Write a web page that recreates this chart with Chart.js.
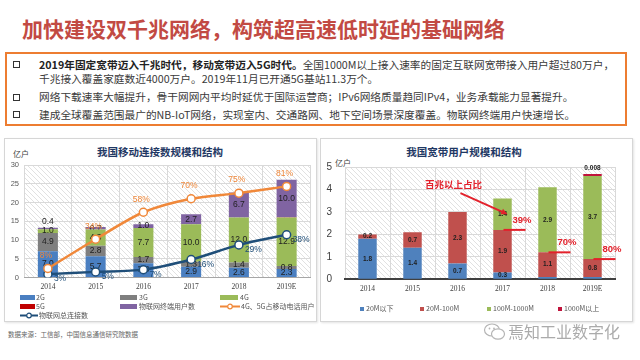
<!DOCTYPE html>
<html>
<head>
<meta charset="utf-8">
<script src="https://cdn.jsdelivr.net/npm/chart.js@4.4.1/dist/chart.umd.min.js"></script>
<style>
body{margin:0;width:640px;height:360px;background:#fff;position:relative;overflow:hidden;font-family:"Noto Sans CJK SC",sans-serif;}
.a{position:absolute;white-space:nowrap;}
#title{left:22px;top:13px;font-size:21px;line-height:30px;font-weight:bold;color:#c24a43;}
#box{left:5px;top:52px;width:618px;height:70px;border:2px solid #ed7d31;}
.ln{left:39px;font-size:10.7px;line-height:14px;color:#3a3a3a;}
.sq{left:13px;width:5px;height:5px;border:1.3px solid #333;}
.panel{top:138px;height:182px;border:1px solid #d6d6d6;box-shadow:1px 1px 2px #e4e4e4;}
.ptitle{font-size:10.5px;font-weight:bold;color:#1f3864;text-align:center;line-height:14px;}
.unit{font-size:8px;color:#404040;}
.lg{font-size:7px;color:#555;line-height:9px;}
.sw{position:absolute;height:5px;}
</style>
</head>
<body>
<div id="title" class="a">加快建设双千兆网络，构筑超高速低时延的基础网络</div>
<div id="box" class="a"></div>
<div class="a sq" style="top:61px"></div>
<div class="a ln" style="top:58px"><b style="color:#222">2019年固定宽带迈入千兆时代，移动宽带迈入5G时代。</b>全国1000M以上接入速率的固定互联网宽带接入用户超过80万户，</div>
<div class="a ln" style="top:72px">千兆接入覆盖家庭数近4000万户。2019年11月已开通5G基站11.3万个。</div>
<div class="a sq" style="top:94px"></div>
<div class="a ln" style="top:90px">网络下载速率大幅提升，骨干网网内平均时延优于国际运营商；IPv6网络质量趋同IPv4，业务承载能力显著提升。</div>
<div class="a sq" style="top:111px"></div>
<div class="a ln" style="top:108px">建成全球覆盖范围最广的NB-IoT网络，实现室内、交通路网、地下空间场景深度覆盖。物联网终端用户快速增长。</div>

<div class="a panel" style="left:4px;width:311px"></div>
<div class="a panel" style="left:320px;width:311px"></div>

<div class="a ptitle" style="left:60px;width:200px;top:145px">我国移动连接数规模和结构</div>
<div class="a ptitle" style="left:364px;width:200px;top:145px">我国宽带用户规模和结构</div>
<div class="a unit" style="left:13px;top:148px">亿户</div>
<div class="a unit" style="left:335px;top:157px">亿户</div>

<canvas id="c1" class="a" width="311" height="156" style="left:5px;top:138px"></canvas>
<canvas id="c2" class="a" width="311" height="162" style="left:321px;top:138px"></canvas>

<!-- left legend -->
<div class="a lg" style="left:20px;top:293px"><span class="sw" style="left:0;top:2px;width:15px;background:#4a7fc1"></span><span style="margin-left:16px">2G</span></div>
<div class="a lg" style="left:120px;top:293px"><span class="sw" style="left:0;top:2px;width:17px;background:#7f7f7f"></span><span style="margin-left:19px">3G</span></div>
<div class="a lg" style="left:220px;top:293px"><span class="sw" style="left:0;top:2px;width:18px;background:#9bbb59"></span><span style="margin-left:20px">4G</span></div>
<div class="a lg" style="left:20px;top:302px"><span class="sw" style="left:0;top:2px;width:15px;background:#c00000"></span><span style="margin-left:16px">5G</span></div>
<div class="a lg" style="left:120px;top:302px"><span class="sw" style="left:0;top:2px;width:17px;background:#8064a2"></span><span style="margin-left:19px">物联网终端用户数</span></div>
<div class="a lg" style="left:220px;top:302px"><svg class="sw" style="left:0;top:0;height:9px" width="20" height="9"><line x1="0" y1="4.5" x2="20" y2="4.5" stroke="#f0883a" stroke-width="2"/><circle cx="10" cy="4.5" r="2.3" fill="#fff" stroke="#f0883a" stroke-width="1.2"/></svg><span style="margin-left:21px">4G、5G占移动电话用户</span></div>
<div class="a lg" style="left:20px;top:311px"><svg class="sw" style="left:0;top:0;height:9px" width="18" height="9"><line x1="0" y1="4.5" x2="18" y2="4.5" stroke="#1f4e79" stroke-width="2"/><circle cx="9" cy="4.5" r="2.3" fill="#fff" stroke="#1f4e79" stroke-width="1.2"/></svg><span style="margin-left:19px">物联网总连接数</span></div>

<!-- right legend -->
<div class="a lg" style="left:360px;top:304px"><span class="sw" style="left:0;top:2.5px;width:4px;height:4px;background:#4f81bd"></span><span style="margin-left:6px">20M以下</span></div>
<div class="a lg" style="left:420px;top:304px"><span class="sw" style="left:0;top:2.5px;width:4px;height:4px;background:#c0504d"></span><span style="margin-left:6px">20M-100M</span></div>
<div class="a lg" style="left:487px;top:304px"><span class="sw" style="left:0;top:2.5px;width:4px;height:4px;background:#9bbb59"></span><span style="margin-left:6px">100M-1000M</span></div>
<div class="a lg" style="left:558px;top:304px"><span class="sw" style="left:0;top:2.5px;width:4px;height:4px;background:#c0143c"></span><span style="margin-left:6px">1000M以上</span></div>

<div class="a" style="left:8px;top:329px;font-size:6.5px;color:#666">数据来源：工信部，中国信息通信研究院数据</div>

<svg class="a" style="left:483px;top:322px" width="24" height="20">
  <ellipse cx="9" cy="8" rx="7.5" ry="6" fill="none" stroke="#b5b5b5" stroke-width="1.2"/>
  <ellipse cx="15" cy="12" rx="6.5" ry="5.2" fill="#fff" stroke="#b5b5b5" stroke-width="1.2"/>
  <circle cx="6.5" cy="6.5" r="0.9" fill="#b5b5b5"/><circle cx="11" cy="6.5" r="0.9" fill="#b5b5b5"/>
</svg>
<div class="a" style="left:508px;top:320px;font-size:16px;line-height:22px;color:#ababab">焉知工业数字化</div>

<script>
// 移动连接数 (亿户)
var years = ['2014', '2015', '2016', '2017', '2018', '2019E'];
var g2 = [7.0, 5.7, 3.8, 2.9, 2.6, 2.3];
var g3 = [4.9, 2.8, 1.7, 1.3, 1.4, 0.8];
var g4 = [1.0, 4.3, 7.7, 10.0, 12.0, 12.9];
var g5 = [0, 0, 0, 0, 0, 0.1];
var iotUsers = [0.4, 0.7, 1.0, 2.7, 6.7, 10.0];
var share45 = [8, 34, 58, 70, 75, 81];      // %
var iotTotal = [3, 5, 7, 16, 29, 38];       // %
var yTicks1 = [0, 5, 10, 15, 20, 25, 30];

// 宽带用户 (亿户)
var bbLow = [1.8, 1.4, 0.7, 0.3, 0.1, 0.1];
var bbMid = [0.2, 0.7, 2.3, 1.9, 1.1, 0.8];
var bbHigh = [0, 0, 0, 1.4, 2.9, 3.7];
var bbGiga = [null, null, null, null, null, 0.008];
var over100 = [null, null, null, 39, 70, 80]; // %
var yTicks2 = [0, 1, 2, 3, 4, 5];

function hatch(ctx) {
  var p = document.createElement('canvas');
  p.width = 5; p.height = 5;
  var c = p.getContext('2d');
  c.strokeStyle = '#e1e1e1';
  c.lineWidth = 1;
  c.beginPath(); c.moveTo(0, 0); c.lineTo(5, 5); c.stroke();
  return ctx.createPattern(p, 'repeat');
}

var hatchBg = {
  id: 'hatchBg',
  beforeDraw: function(chart) {
    var a = chart.chartArea, ctx = chart.ctx;
    ctx.save();
    ctx.fillStyle = hatch(ctx);
    ctx.fillRect(a.left, a.top, a.right - a.left, a.bottom - a.top);
    ctx.restore();
  }
};

// labels inside stacked segments, drawn before the lines so markers cover them
var segLabels = {
  id: 'segLabels',
  afterDatasetDraw: function(chart, args, opts) {
    var ds = chart.data.datasets[args.index];
    if (ds.type === 'line' || !ds.lbl) return;
    var ctx = chart.ctx;
    ctx.save();
    ctx.font = opts.font;
    ctx.fillStyle = '#1e1e1e';
    ctx.textAlign = 'center';
    ctx.textBaseline = 'middle';
    args.meta.data.forEach(function(el, j) {
      var v = ds.data[j];
      if (v == null || v === 0) return;
      if (v < opts.min) {
        if (ds.lblTop) ctx.fillText(ds.lblTop(v), el.x, el.y - 6);
        return;
      }
      ctx.fillText(v.toFixed(1), el.x, (el.y + el.base) / 2);
    });
    ctx.restore();
  }
};

var lineLabels = {
  id: 'lineLabels',
  afterDatasetsDraw: function(chart) {
    var ctx = chart.ctx;
    ctx.save();
    ctx.font = '8.5px "Liberation Sans"';
    ctx.textBaseline = 'middle';
    chart.data.datasets.forEach(function(ds, i) {
      if (ds.type !== 'line') return;
      var meta = chart.getDatasetMeta(i);
      ctx.fillStyle = ds.borderColor;
      meta.data.forEach(function(pt, j) {
        var t = ds.data[j] + '%';
        if (ds.lblPos === 'above') {
          ctx.textAlign = 'center';
          ctx.fillText(t, pt.x - 2, pt.y - 13);
        } else {
          ctx.textAlign = 'left';
          ctx.fillText(t, pt.x + 6, pt.y + 5);
        }
      });
    });
    ctx.restore();
  }
};

var xFont = {family: '"Liberation Serif"', size: 7.5};

new Chart(document.getElementById('c1').getContext('2d'), {
  data: {
    labels: years,
    datasets: [
      {type: 'line', label: '4G、5G占移动电话用户', data: share45, yAxisID: 'y1', order: 0,
       borderColor: '#f0883a', borderWidth: 2.5, tension: 0.3, pointRadius: 4,
       pointBackgroundColor: '#fff', pointBorderWidth: 1.5, lblPos: 'above'},
      {type: 'line', label: '物联网总连接数', data: iotTotal, yAxisID: 'y1', order: 0,
       borderColor: '#1f4e79', borderWidth: 2.5, tension: 0.3, pointRadius: 4,
       pointBackgroundColor: '#fff', pointBorderWidth: 1.5, lblPos: 'right'},
      {type: 'bar', label: '2G', data: g2, backgroundColor: '#4a7fc1', order: 1, lbl: true},
      {type: 'bar', label: '3G', data: g3, backgroundColor: '#7f7f7f', order: 1, lbl: true},
      {type: 'bar', label: '4G', data: g4, backgroundColor: '#9bbb59', order: 1, lbl: true},
      {type: 'bar', label: '5G', data: g5, backgroundColor: '#c00000', order: 1},
      {type: 'bar', label: '物联网终端用户数', data: iotUsers, backgroundColor: '#8064a2', order: 1, lbl: true,
       lblTop: function(v) { return v.toFixed(1); }}
    ]
  },
  options: {
    responsive: false,
    animation: false,
    barPercentage: 0.42,
    categoryPercentage: 1,
    layout: {padding: {top: 27, right: 5, left: 0, bottom: 0}},
    plugins: {
      legend: {display: false},
      tooltip: {enabled: false},
      segLabels: {font: '8.5px "Liberation Sans"', min: 0.6}
    },
    scales: {
      x: {stacked: true,
          grid: {offset: true, color: '#d9d9d9', drawTicks: false},
          border: {color: '#a6a6a6'},
          ticks: {font: xFont, color: '#404040', padding: 5},
          afterFit: function(s) { s.height = 16.5; }},
      y: {stacked: true, min: 0, max: 30,
          grid: {color: '#d9d9d9', drawTicks: false},
          border: {display: false},
          afterBuildTicks: function(s) { s.ticks = yTicks1.map(function(v) { return {value: v}; }); },
          ticks: {font: {family: '"Liberation Sans"', size: 7.5}, color: '#595959', padding: 5},
          afterFit: function(s) { s.width = 19; }},
      y1: {display: false, min: 0, max: 100}
    }
  },
  plugins: [hatchBg, segLabels, lineLabels]
});

// 百兆以上占比 annotation
var bbNotes = {
  id: 'bbNotes',
  afterDatasetsDraw: function(chart) {
    var ctx = chart.ctx, xs = chart.scales.x, ys = chart.scales.y;
    ctx.save();
    ctx.strokeStyle = '#e3212b';
    ctx.fillStyle = '#e3212b';
    ctx.lineWidth = 2;
    ctx.font = 'bold 9.5px "Liberation Sans"';
    ctx.textAlign = 'left';
    ctx.textBaseline = 'middle';
    over100.forEach(function(p, i) {
      if (p == null) return;
      var y = ys.getPixelForValue(bbLow[i] + bbMid[i]);
      var x0 = xs.getPixelForValue(i) + 1;
      ctx.beginPath(); ctx.moveTo(x0, y); ctx.lineTo(x0 + 22, y); ctx.stroke();
      ctx.fillText(p + '%', x0 + 9, y - 10);
    });
    // caption + arrow
    ctx.font = 'bold 9.5px "Noto Sans CJK SC"';
    ctx.textAlign = 'center';
    ctx.fillText('百兆以上占比', xs.getPixelForValue(2) - 4, ys.getPixelForValue(4.21));
    var sx = xs.getPixelForValue(2) + 3, sy = ys.getPixelForValue(3.84);
    var ex = xs.getPixelForValue(3) + 5, ey = ys.getPixelForValue(2.9);
    var ang = Math.atan2(ey - sy, ex - sx);
    ctx.beginPath(); ctx.moveTo(sx, sy);
    ctx.lineTo(ex - 5 * Math.cos(ang), ey - 5 * Math.sin(ang)); ctx.stroke();
    ctx.beginPath();
    ctx.moveTo(ex, ey);
    ctx.lineTo(ex - 7 * Math.cos(ang - 0.45), ey - 7 * Math.sin(ang - 0.45));
    ctx.lineTo(ex - 7 * Math.cos(ang + 0.45), ey - 7 * Math.sin(ang + 0.45));
    ctx.closePath(); ctx.fill();
    ctx.restore();
  }
};

new Chart(document.getElementById('c2').getContext('2d'), {
  type: 'bar',
  data: {
    labels: years,
    datasets: [
      {label: '20M以下', data: bbLow, backgroundColor: '#4f81bd', lbl: true},
      {label: '20M-100M', data: bbMid, backgroundColor: '#c0504d', lbl: true},
      {label: '100M-1000M', data: bbHigh, backgroundColor: '#9bbb59', lbl: true},
      {label: '1000M以上', data: bbGiga, backgroundColor: '#c0143c', minBarLength: 2, lbl: true,
       lblTop: function(v) { return String(v); }}
    ]
  },
  options: {
    responsive: false,
    animation: false,
    barPercentage: 0.41,
    categoryPercentage: 1,
    layout: {padding: {top: 29, right: 17, left: 0, bottom: 0}},
    plugins: {
      legend: {display: false},
      tooltip: {enabled: false},
      segLabels: {font: 'bold 6.5px "Liberation Sans"', min: 0.15}
    },
    scales: {
      x: {stacked: true,
          grid: {offset: true, color: '#d9d9d9', drawTicks: false},
          border: {color: '#404040', width: 2},
          ticks: {font: xFont, color: '#404040', padding: 5},
          afterFit: function(s) { s.height = 20.7; }},
      y: {stacked: true, min: 0, max: 5,
          grid: {color: '#d9d9d9', drawTicks: false},
          border: {display: false},
          afterBuildTicks: function(s) { s.ticks = yTicks2.map(function(v) { return {value: v}; }); },
          ticks: {font: {family: '"Liberation Sans"', size: 10}, color: '#404040', padding: 13},
          afterFit: function(s) { s.width = 24; }}
    }
  },
  plugins: [hatchBg, segLabels, bbNotes]
});
</script>
</body>
</html>
